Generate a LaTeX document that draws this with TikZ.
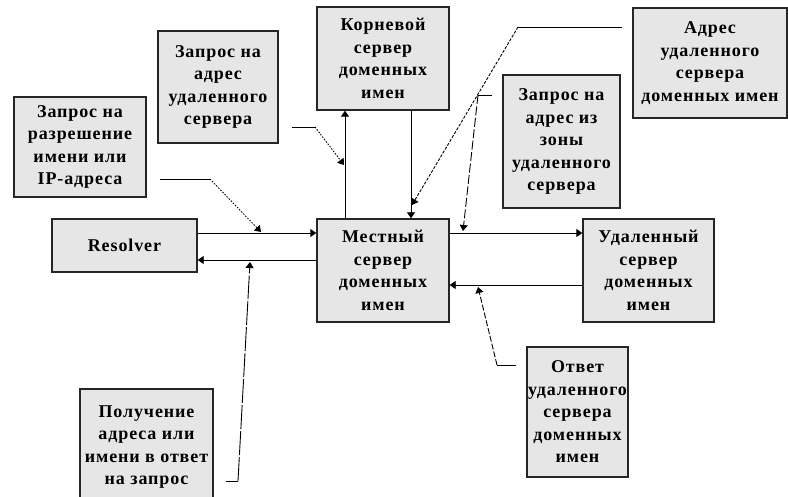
\documentclass[tikz,border=0pt]{standalone}
\usepackage{fontspec}
\setmainfont[LetterSpace=5]{Liberation Serif}
\usetikzlibrary{arrows.meta}
\definecolor{boxgray}{RGB}{230,230,230}

\begin{document}
\begin{tikzpicture}[x=1pt,y=-1pt,
  box/.style={draw=black!85,line width=1.4pt,fill=boxgray,align=center,inner sep=0pt,
    font=\fontsize{18}{22.5}\selectfont\bfseries},
  flow/.style={line width=0.9pt,-{Triangle[width=8pt,length=6pt]}},
  tail/.style={line width=0.9pt},
  note/.style={line width=0.9pt,dash pattern=on 1.5pt off 1.5pt,-{Triangle[width=8pt,length=6pt]}},
  longnote/.style={note,dash pattern=on 9pt off 2.5pt}]
\useasboundingbox (0,0) rectangle (788,497);
\node[box,minimum width=145pt,minimum height=53pt] (resolver) at (124.5,245.5) {Resolver};
\node[box,minimum width=132pt,minimum height=100pt] (reqname) at (80,147) {Запрос на\\разрешение\\имени или\\IP-адреса};
\node[box,minimum width=120pt,minimum height=112pt] (reqremote) at (218,87) {Запрос на\\адрес\\удаленного\\сервера};
\node[box,minimum width=132pt,minimum height=103pt] (root) at (383,58.5) {Корневой\\сервер\\доменных\\имен};
\node[box,minimum width=154pt,minimum height=110pt] (remaddr) at (710,63) {Адрес\\удаленного\\сервера\\доменных имен};
\node[box,minimum width=117pt,minimum height=133pt] (reqzone) at (561.5,141.5) {Запрос на\\адрес из\\зоны\\удаленного\\сервера};
\node[box,minimum width=132pt,minimum height=103pt] (local) at (383,270.5) {Местный\\сервер\\доменных\\имен};
\node[box,minimum width=131pt,minimum height=103pt] (remote) at (648.5,270.5) {Удаленный\\сервер\\доменных\\имен};
\node[box,minimum width=101pt,minimum height=130pt] (answer) at (577.5,412) {Ответ\\удаленного\\сервера\\доменных\\имен};
\node[box,minimum width=133pt,minimum height=116pt] (getaddr) at (146.5,447) {Получение\\адреса или\\имени в ответ\\на запрос};

\draw[flow] ([yshift=12.5pt]resolver.east) -- ([yshift=37.5pt]local.west);
\draw[flow] ([yshift=10.5pt]local.west) -- ([yshift=-14.5pt]resolver.east);
\draw[flow] ([yshift=37.5pt]local.east) -- ([yshift=37.5pt]remote.west);
\draw[flow] ([yshift=-14.5pt]remote.west) -- ([yshift=-14.5pt]local.east);
\draw[flow] ([xshift=-38pt]local.north) -- ([xshift=-38pt]root.south);
\draw[flow] ([xshift=28pt]root.south) -- ([xshift=28pt]local.north);

\coordinate (n1) at (160,179);
\coordinate (n1b) at (210,179);
\coordinate (n1e) at (261,232);
\draw[tail] (n1) -- (n1b);
\draw[note] (n1b) -- (n1e);
\coordinate (n2) at (292,127);
\coordinate (n2b) at (315,127);
\coordinate (n2e) at (344,165);
\draw[tail] (n2) -- (n2b);
\draw[note] (n2b) -- (n2e);
\coordinate (n3) at (622,27);
\coordinate (n3b) at (518,27);
\coordinate (n3e) at (412,205);
\draw[tail] (n3) -- (n3b);
\draw[note,dash pattern=on 3pt off 1.5pt] (n3b) -- (n3e);
\coordinate (n4) at (492,95);
\coordinate (n4b) at (478,95);
\coordinate (n4e) at (463,231);
\draw[tail] (n4) -- (n4b);
\draw[longnote] (n4b) -- (n4e);
\coordinate (n5) at (516,365);
\coordinate (n5b) at (497,365);
\coordinate (n5e) at (478,287);
\draw[tail] (n5) -- (n5b);
\draw[note,dash pattern=on 6pt off 2pt] (n5b) -- (n5e);
\coordinate (n6) at (226,481);
\coordinate (n6b) at (238,481);
\coordinate (n6e) at (250,262);
\draw[tail] (n6) -- (n6b);
\draw[longnote,dash pattern=on 24pt off 2pt] (n6b) -- (n6e);
\end{tikzpicture}
\end{document}
